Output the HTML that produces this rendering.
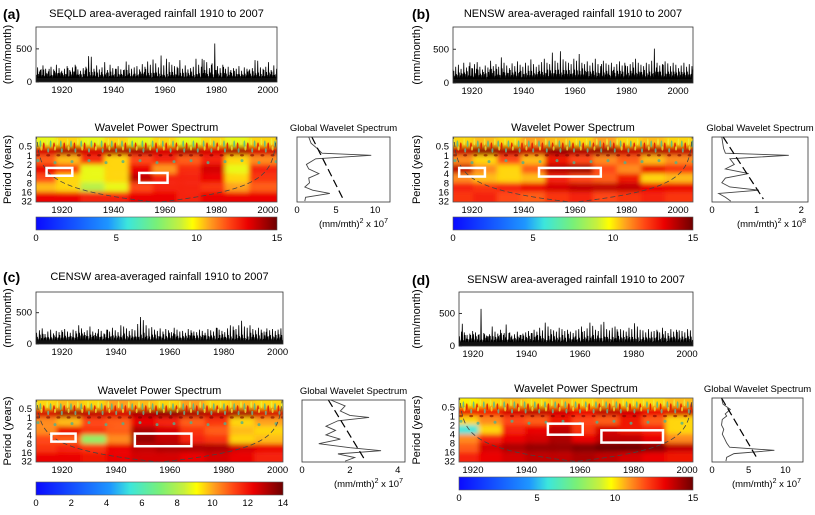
<!DOCTYPE html>
<html><head><meta charset="utf-8"><style>
html,body{margin:0;padding:0;background:#fff;}
svg{display:block;font-family:"Liberation Sans",sans-serif;}
</style></head><body>
<svg id="fig" width="815" height="515" viewBox="0 0 815 515"></svg>
<script>
// ---------- data ----------
const seriesA=[220,180,250,200,160,230,190,260,210,170,200,240,180,220,260,190,170,210,230,390,380,200,250,190,220,300,180,260,210,200,240,190,180,310,260,200,220,240,190,270,230,310,260,340,280,220,400,250,350,300,260,240,230,330,200,250,190,210,230,350,260,230,330,300,210,280,580,240,210,260,200,230,180,210,200,240,170,220,200,190,210,330,320,220,200,230,300,180,250,200,190,240,220,230];
const seriesB=[220,260,200,240,270,210,300,230,250,220,280,310,240,200,260,230,330,250,280,240,380,300,260,220,290,250,320,270,240,300,260,350,280,240,270,310,360,300,280,450,330,300,470,350,320,300,280,360,330,430,300,280,320,260,300,360,280,250,330,290,270,300,240,280,320,260,300,250,280,310,360,300,270,250,300,280,330,510,300,260,280,320,290,250,300,270,220,260,300,240,280,250,230,260];
const seriesC=[180,220,250,160,200,230,170,210,190,220,240,200,180,230,210,300,250,190,220,280,200,180,240,210,170,230,200,260,220,190,300,280,250,210,240,220,320,430,380,300,250,270,230,210,250,200,240,220,190,260,230,200,210,180,240,220,200,190,230,210,180,240,220,200,260,230,210,190,250,300,280,240,300,370,280,260,300,240,220,260,230,200,250,220,240,210,230,250,260,220,240,200,230,250];
const seriesD=[300,180,330,200,150,220,210,170,190,230,210,170,570,200,160,180,300,220,190,250,170,330,200,160,180,220,170,190,210,230,200,250,220,280,240,360,300,260,240,220,280,260,230,250,220,200,240,260,300,230,270,360,310,250,230,330,370,260,240,280,300,220,260,240,220,280,260,350,300,250,240,210,260,220,230,250,210,280,230,200,260,220,250,240,230,210,260,240,220,250,230,280,240,210];
const waveA=[[.55,.6,.55,.6,.55,.6,.55,.6,.55,.6],[.82,.86,.82,.86,.86,.82,.86,.82,.86,.82],[.7,.62,.75,.6,.72,.76,.7,.76,.6,.66],[.8,.74,.55,.6,.8,.65,.75,.82,.55,.76],[.72,.6,.55,.6,.84,.76,.76,.8,.6,.74],[.62,.6,.5,.55,.72,.76,.76,.74,.64,.7],[.8,.8,.76,.76,.8,.8,.76,.8,.8,.8]];
const waveB=[[.6,.62,.6,.64,.62,.6,.64,.6,.62,.6],[.84,.88,.86,.84,.88,.86,.88,.84,.86,.84],[.66,.6,.72,.62,.78,.72,.66,.7,.62,.66],[.84,.66,.6,.7,.86,.88,.72,.66,.8,.74],[.66,.62,.6,.62,.76,.72,.7,.78,.6,.62],[.76,.74,.76,.8,.82,.84,.84,.84,.8,.8],[.74,.76,.72,.7,.74,.76,.72,.74,.76,.74]];
const waveC=[[.6,.62,.6,.64,.62,.6,.64,.6,.62,.6],[.82,.86,.84,.82,.86,.88,.86,.84,.86,.82],[.66,.62,.72,.7,.8,.76,.7,.74,.6,.64],[.66,.8,.74,.7,.86,.82,.74,.7,.62,.6],[.72,.7,.45,.66,.88,.84,.76,.74,.6,.62],[.74,.76,.74,.8,.84,.86,.86,.86,.82,.8],[.8,.8,.78,.8,.82,.82,.8,.82,.8,.76]];
const waveD=[[.58,.6,.62,.6,.62,.6,.62,.6,.6,.62],[.8,.78,.82,.84,.82,.8,.84,.82,.8,.82],[.6,.66,.72,.7,.78,.72,.7,.78,.7,.6],[.3,.6,.76,.8,.84,.74,.82,.78,.76,.6],[.66,.76,.8,.82,.86,.8,.84,.84,.8,.66],[.7,.82,.86,.88,.88,.9,.94,.94,.9,.84],[.76,.8,.82,.84,.84,.86,.84,.82,.8,.78]];
const gwsPeriods=[0.25,0.4,0.6,0.85,1,1.3,2,2.8,4,5.6,8,11,14,18,24,32];
const gwsA=[1.5,1.8,2.6,3.2,9.5,2.4,1.2,1.5,2.8,1.5,1.6,1.0,2.0,4.2,1.1,1.0];
const gwsB=[0.22,0.24,0.26,0.3,1.72,0.4,0.5,0.3,0.82,0.3,0.22,0.4,1.05,0.15,0.3,0.42];
const gwsC=[1.2,1.8,1.6,2.0,2.8,1.5,1.0,1.4,1.0,1.6,0.7,2.0,3.3,1.5,2.2,1.8];
const gwsD=[1.3,1.5,2.5,1.8,2.0,1.4,1.3,1.6,1.4,1.7,2.0,2.4,8.5,3.0,2.0,1.9];
const sigA=[1.9,5.9], sigB=[0.25,1.15], sigC=[1.1,2.6], sigD=[1.3,6.2];
const boxesA=[[1914,1924,2.6,4.7],[1950,1961,3.8,8]];
const boxesB=[[1915,1925,2.6,5],[1946,1970,2.6,5]];
const boxesC=[[1916,1925,3.6,6.8],[1947,1968,3.6,9.8]];
const boxesD=[[1948,1961,1.8,4.2],[1968,1991,3,7.7]];
const cbTicksA=[0,5,10,15], cbTicksC=[0,2,4,6,8,10,12,14];
const yearTicks=[1920,1940,1960,1980,2000];
const periodTicks=[0.5,1,2,4,8,16,32];

const NS="http://www.w3.org/2000/svg";
const svg=document.getElementById('fig');
function el(tag,attrs,parent,text){const e=document.createElementNS(NS,tag);for(const k in attrs)e.setAttribute(k,attrs[k]);if(text!==undefined)e.textContent=text;(parent||svg).appendChild(e);return e;}
const stops=[[0,[10,10,255]],[.3,[30,150,255]],[.38,[60,230,220]],[.5,[120,240,120]],[.6,[200,240,60]],[.65,[255,255,0]],[.72,[255,160,30]],[.8,[255,70,20]],[.88,[235,0,0]],[1,[110,0,0]]];
function cmap(f){f=Math.max(0,Math.min(1,f));for(let i=1;i<stops.length;i++){if(f<=stops[i][0]){const a=stops[i-1],b=stops[i],t=(f-a[0])/(b[0]-a[0]);const c=a[1].map((v,j)=>Math.round(v+(b[1][j]-v)*t));return `rgb(${c})`;}}return 'rgb(110,0,0)';}
const defs=el('defs',{});
const blur=el('filter',{id:'blur',x:'-5%',y:'-5%',width:'110%',height:'110%'},defs);
el('feGaussianBlur',{stdDeviation:'2.5'},blur);
const grad=el('linearGradient',{id:'cbgrad',x1:'0',x2:'1',y1:'0',y2:'0'},defs);
stops.forEach(s=>el('stop',{offset:s[0],'stop-color':cmap(s[0])},grad));

function panel(p){
  const g=el('g',{});
  
  
  const xs=y=>p.x0+(y-p.yr0)/(p.yr1-p.yr0)*(p.x1-p.x0);
  const lab=el('text',{x:p.lx,y:p.ty+2,'font-size':14,'font-weight':'bold'},g,'('+p.id+')');
  
  const tt=el('text',{x:(p.x0+p.x1)/2,y:p.ty,'font-size':11,'text-anchor':'middle'},g,p.title);
  
  // time series
  const tb=p.tsTop,tbot=p.tsBot,ymax=830;
  const ys=v=>tbot-v/ymax*(tbot-tb);
  let pts=[];const n=p.series.length;
  p.series.forEach((v,i)=>{const x=xs(1910+(i+0.5)*(98/n));const w=p.series[(i*37+11)%n],u=p.series[(i*53+29)%n];
    pts.push([x-1.1,ys(15)],[x-0.7,ys(w*0.45)],[x-0.4,ys(30)],[x,ys(v)],[x+0.4,ys(50)],[x+0.8,ys(u*0.6)],[x+1.2,ys(10)]);});
  const line=el('polyline',{points:pts.filter(q=>q[0]>=p.x0&&q[0]<=p.x1).map(q=>q.join(',')).join(' '),fill:'none',stroke:'#000','stroke-width':0.8},g);
  
  el('rect',{x:p.x0,y:ys(60),width:p.x1-p.x0,height:ys(0)-ys(60),fill:'#111'},g);
  const fr=el('rect',{x:p.x0,y:tb,width:p.x1-p.x0,height:tbot-tb,fill:'none',stroke:'#333','stroke-width':0.8},g);
  
  [0,500].forEach(v=>{el('text',{x:p.x0-4,y:ys(v)+3,'font-size':9.5,'text-anchor':'end'},g,v);el('line',{x1:p.x0,x2:p.x0+3,y1:ys(v),y2:ys(v),stroke:'#333'},g);});
  yearTicks.forEach(y=>{el('text',{x:xs(y),y:tbot+11,'font-size':9.5,'text-anchor':'middle'},g,y);});
  const yl=el('text',{transform:`translate(${p.lx+8},${(tb+tbot)/2}) rotate(-90)`,'font-size':11,'text-anchor':'middle'},g,'(mm/month)');
  
  // wavelet
  const wt=p.wTop,wb=p.wBot,L0=-2,L1=5.1;
  const py=per=>wt+(Math.log2(per)-L0)/(L1-L0)*(wb-wt);
  el('text',{x:(p.x0+p.x1)/2,y:wt-6,'font-size':11,'text-anchor':'middle'},g,'Wavelet Power Spectrum');
  const clip=el('clipPath',{id:'clip'+p.id},defs);el('rect',{x:p.x0,y:wt,width:p.x1-p.x0,height:wb-wt},clip);
  const hm=el('g',{'clip-path':`url(#clip${p.id})`},g);
  
  const hb=el('g',{filter:'url(#blur)'},hm);
  const nc=p.wave[0].length,cw=(p.x1-p.x0)/nc;
  p.wave.forEach((row,r)=>{const r0=r===0?-3:-2+r,r1=r===p.wave.length-1?6:-1+r;
    row.forEach((v,c)=>{const cell=el('rect',{x:p.x0+c*cw-4,y:py(Math.pow(2,r0)),width:cw+8,height:py(Math.pow(2,r1))-py(Math.pow(2,r0)),fill:cmap(v+0.08)},hb);
      });});
  // speckle texture in high frequencies (decorative)
  for(let x=p.x0+1;x<p.x1;x+=3.4){const k=Math.round((x-p.x0)/3.4);
    el('ellipse',{cx:x,cy:py(0.36)+(k%3)*2,rx:0.9,ry:3.5,fill:k%3==0?'#e8f040':(k%3==1?'#50b890':'#e01000'),opacity:0.85},hm);
    if(k%2)el('ellipse',{cx:x+1,cy:py(0.55)+(k%4),rx:1,ry:2.2,fill:k%4==1?'#f0e040':'#60c0a0',opacity:0.75},hm);
    if(k%3==0)el('ellipse',{cx:x+1,cy:py(1),rx:2,ry:1.2,fill:'#7a0000',opacity:0.6},hm);
    if(k%5==0)el('circle',{cx:x+1,cy:py(1.5)+(k%3),r:1.5,fill:'#50b090',opacity:0.8},hm);}
  // cone of influence
  let coi=[];for(let y=p.yr0;y<=p.yr1;y+=0.5){const d=Math.min(y-p.yr0,p.yr1-y);coi.push([xs(y),py(Math.max(0.2,d*0.75))]);}
  el('polyline',{points:coi.map(q=>q.join(',')).join(' '),fill:'none',stroke:'#444','stroke-width':0.8,'stroke-dasharray':'5,3'},hm);
  p.boxes.forEach(b=>{const r=el('rect',{x:xs(b[0]),y:py(b[2]),width:xs(b[1])-xs(b[0]),height:py(b[3])-py(b[2]),fill:'none',stroke:'#fff','stroke-width':2.5},g);
    });
  el('rect',{x:p.x0,y:wt,width:p.x1-p.x0,height:wb-wt,fill:'none',stroke:'#555','stroke-width':0.8},g);
  periodTicks.forEach(t=>el('text',{x:p.x0-4,y:py(t)+3.5,'font-size':9.5,'text-anchor':'end'},g,t));
  yearTicks.forEach(y=>el('text',{x:xs(y),y:wb+11,'font-size':9.5,'text-anchor':'middle'},g,y));
  const pl=el('text',{transform:`translate(${p.lx+8},${(wt+wb)/2}) rotate(-90)`,'font-size':11,'text-anchor':'middle'},g,'Period (years)');
  
  // colorbar
  const cb=el('rect',{x:p.x0,y:p.cbTop,width:p.x1-p.x0,height:13,fill:'url(#cbgrad)',stroke:'#555','stroke-width':0.6},g);
  
  const cmax=p.cbTicks[p.cbTicks.length-1];
  p.cbTicks.forEach(t=>el('text',{x:p.x0+t/cmax*(p.x1-p.x0),y:p.cbTop+24,'font-size':9.5,'text-anchor':'middle'},g,t));
  // global spectrum
  const gx=v=>p.gx0+v/p.gmax*(p.gx1-p.gx0);
  el('text',{x:(p.gx0+p.gx1)/2,y:wt-6,'font-size':9.5,'text-anchor':'middle'},g,'Global Wavelet Spectrum');
  const gl=el('polyline',{points:p.gws.map((v,i)=>gx(v)+','+py(gwsPeriods[i])).join(' '),fill:'none',stroke:'#444','stroke-width':0.9},g);
  
  const sg=el('line',{x1:gx(p.sig[0]),y1:wt,x2:gx(p.sig[1]),y2:wb-3,stroke:'#000','stroke-width':1.2,'stroke-dasharray':'8,4'},g);
  
  el('rect',{x:p.gx0,y:wt,width:p.gx1-p.gx0,height:wb-wt,fill:'none',stroke:'#333','stroke-width':0.8},g);
  p.gticks.forEach(t=>el('text',{x:gx(t),y:wb+11,'font-size':9.5,'text-anchor':'middle'},g,t));
  const u=el('text',{x:p.gx1-2,y:wb+25,'font-size':9.5,'text-anchor':'end'},g);
  u.appendChild(document.createTextNode('(mm/mth)'));
  el('tspan',{dy:-4,'font-size':7},u,'2');el('tspan',{dy:4},u,' x 10');el('tspan',{dy:-4,'font-size':7},u,p.exp);
}
panel({id:'a',title:'SEQLD area-averaged rainfall 1910 to 2007',lx:3,ty:17,x0:36,x1:277,yr0:1909.9,yr1:2003.5,tsTop:27,tsBot:82,series:seriesA,wTop:137,wBot:202,wave:waveA,boxes:boxesA,cbTop:217,cbTicks:cbTicksA,gx0:297,gx1:390,gmax:11.9,gws:gwsA,sig:sigA,gticks:[0,5,10],exp:'7'});
panel({id:'b',title:'NENSW area-averaged rainfall 1910 to 2007',lx:412,ty:17,x0:453,x1:693,yr0:1912.6,yr1:2005.8,tsTop:27,tsBot:83,series:seriesB,wTop:137,wBot:202,wave:waveB,boxes:boxesB,cbTop:217,cbTicks:cbTicksA,gx0:712,gx1:808,gmax:2.15,gws:gwsB,sig:sigB,gticks:[0,1,2],exp:'8'});
panel({id:'c',title:'CENSW area-averaged rainfall  1910 to 2007',lx:3,ty:280,x0:36,x1:283,yr0:1910.3,yr1:2002,tsTop:292,tsBot:344,series:seriesC,wTop:400,wBot:462,wave:waveC,boxes:boxesC,cbTop:482,cbTicks:cbTicksC,gx0:302,gx1:405,gmax:4.3,gws:gwsC,sig:sigC,gticks:[0,2,4],exp:'7'});
panel({id:'d',title:'SENSW area-averaged rainfall 1910 to 2007',lx:412,ty:283,x0:459,x1:693,yr0:1914.8,yr1:2002.2,tsTop:292,tsBot:346,series:seriesD,wTop:398,wBot:462,wave:waveD,boxes:boxesD,cbTop:477,cbTicks:cbTicksA,gx0:712,gx1:803,gmax:12.4,gws:gwsD,sig:sigD,gticks:[0,5,10],exp:'7'});
</script>
</body></html>
